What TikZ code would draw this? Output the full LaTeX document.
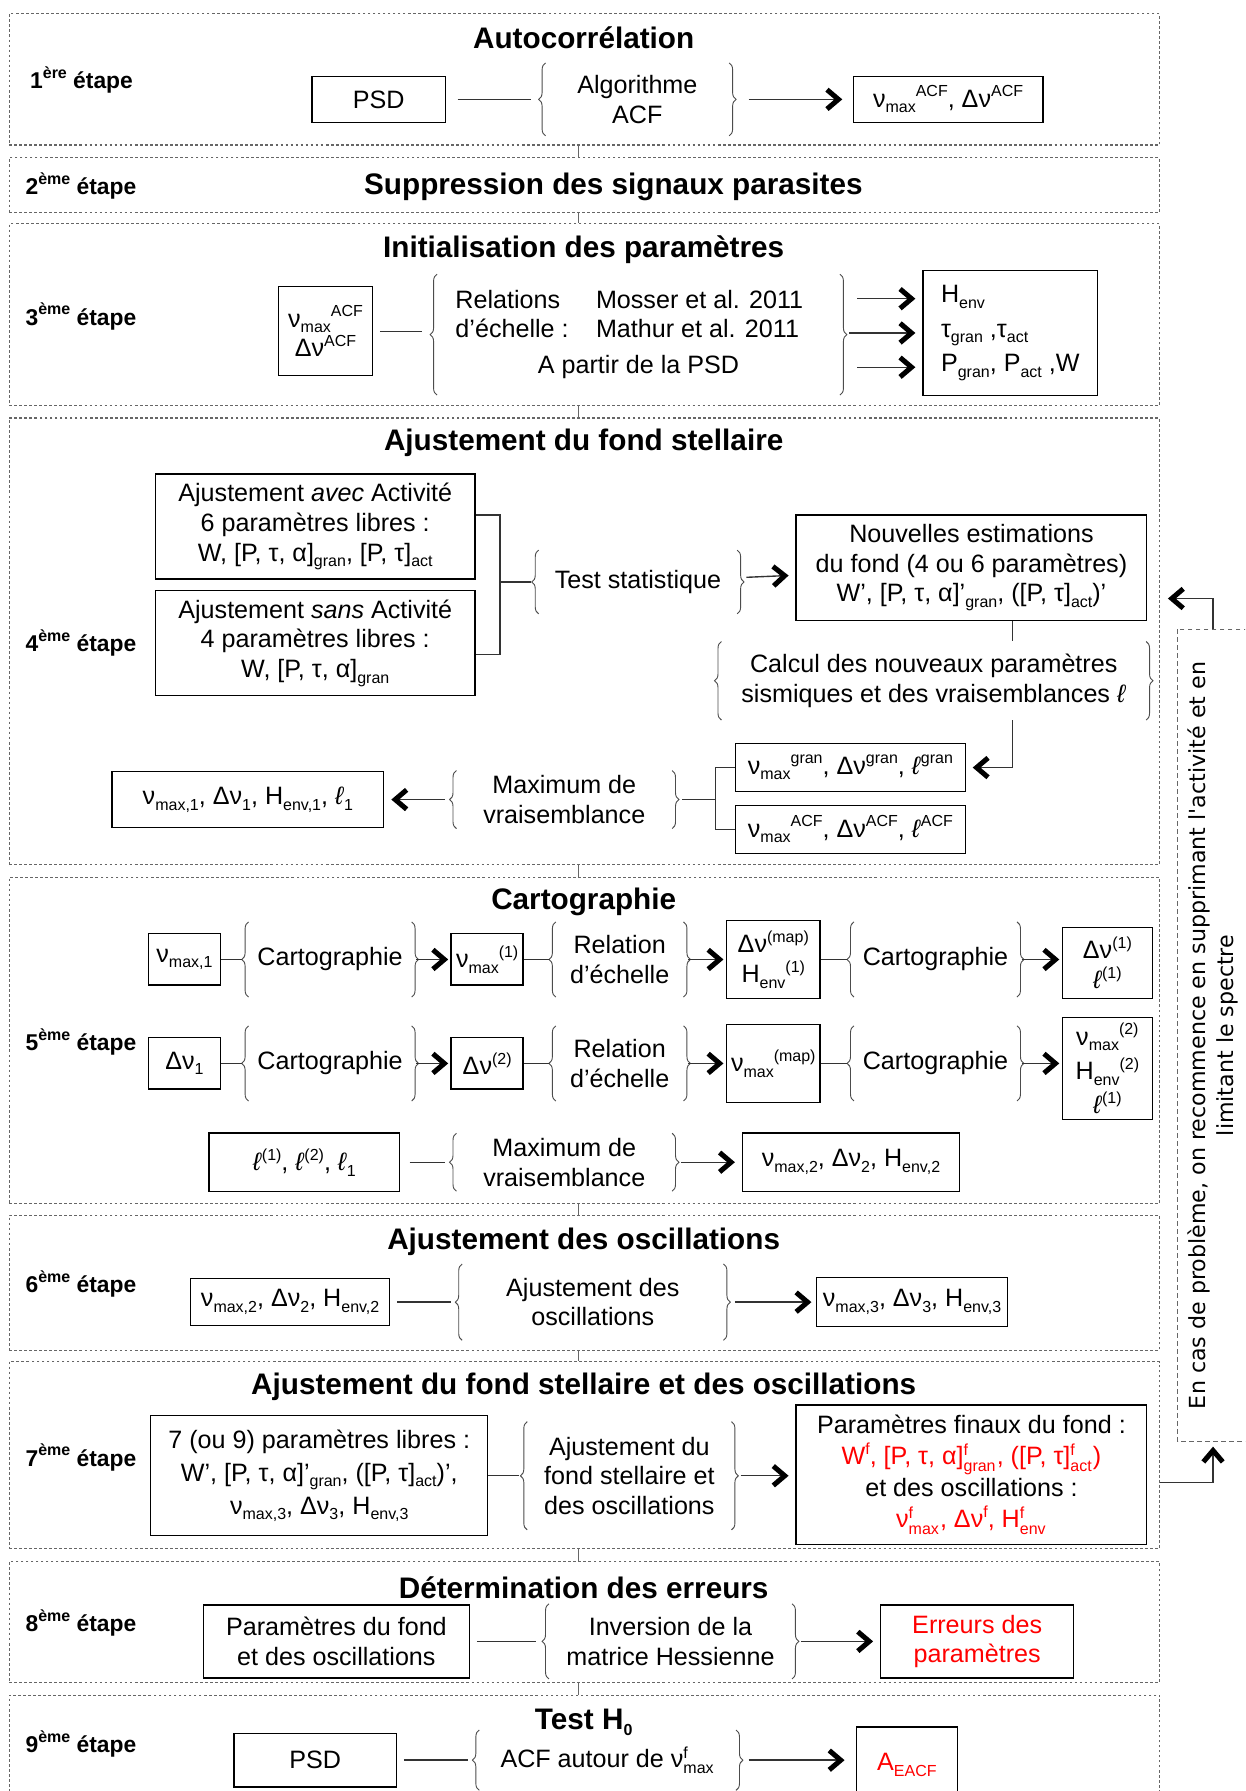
\documentclass[tikz,border=0pt]{standalone}
\usepackage{fontspec}
\setmainfont{Liberation Sans}
\newfontfamily\sidefont{DejaVu Sans}
\usetikzlibrary{arrows.meta,decorations.pathreplacing}
\newcommand\lo[1]{\raisebox{-2.5pt}{\fontsize{7}{8}\selectfont #1}}
\newcommand\hi[1]{\raisebox{4.5pt}{\fontsize{7}{8}\selectfont #1}}
\newcommand\hilo[2]{\ensuremath{^{\mbox{\fontsize{7}{8}\selectfont #1}}_{\mbox{\fontsize{7}{8}\selectfont #2}}}}
\newcommand\vl{\textit{ℓ}}
\newcommand\bracepair[1]{\draw[brace] (#1.south west) -- (#1.north west); \draw[brace] (#1.north east) -- (#1.south east);}
\tikzset{
stage/.style={draw=black!60, dash pattern=on 1.2pt off 1pt, line width=0.5pt},
sidebox/.style={draw=black!60, dash pattern=on 2pt off 1.5pt, line width=0.5pt, align=center, font=\fontsize{9.7}{12.5}\sidefont},
box/.style={draw=black, line width=0.6pt, align=center, inner sep=1.5pt},
proc/.style={align=center, inner sep=0pt},
title/.style={font=\fontsize{13}{15}\selectfont\bfseries},
steplabel/.style={anchor=west, inner sep=0pt, font=\fontsize{10}{12}\selectfont\bfseries},
brace/.style={draw=black!70, line width=0.4pt, decorate, decoration={brace, amplitude=3pt}},
gap/.style={draw=black!60, line width=0.4pt},
line/.style={draw=black!80, line width=0.6pt},
link/.style={line, shorten <=3pt, shorten >=5pt},
flow/.style={line, shorten <=4pt, shorten >=3pt, -{Straight Barb[black, length=5pt, width=8.5pt, line width=2.2pt]}},
sz/.style 2 args={minimum width=#1*0.5pt, minimum height=#2*0.5pt},
}
\begin{document}
\begin{tikzpicture}[x=0.5pt, y=-0.5pt, every node/.style={font=\fontsize{11}{13}\selectfont}]
\path[use as bounding box] (0,0) rectangle (1090,1568);
\clip (0,0) rectangle (1090,1568);

\node[stage, sz={1007}{115}] (s1) at (511.5,69.5) {};
\node[stage, sz={1007}{48}] (s2) at (511.5,162) {};
\node[stage, sz={1007}{159}] (s3) at (511.5,275.5) {};
\node[stage, sz={1007}{391}] (s4) at (511.5,561.5) {};
\node[stage, sz={1007}{286}] (s5) at (511.5,911) {};
\node[stage, sz={1007}{118}] (s6) at (511.5,1123) {};
\node[stage, sz={1007}{164}] (s7) at (511.5,1274) {};
\node[stage, sz={1007}{106}] (s8) at (511.5,1420) {};
\node[stage, sz={1007}{130}] (s9) at (511.5,1549) {};
\draw[gap] ([xshift=-2.75pt]s1.south) -- ([xshift=-2.75pt]s2.north);
\draw[gap] ([xshift=-2.75pt]s2.south) -- ([xshift=-2.75pt]s3.north);
\draw[gap] ([xshift=-2.75pt]s3.south) -- ([xshift=-2.75pt]s4.north);
\draw[gap] ([xshift=-2.75pt]s4.south) -- ([xshift=-2.75pt]s5.north);
\draw[gap] ([xshift=-2.75pt]s5.south) -- ([xshift=-2.75pt]s6.north);
\draw[gap] ([xshift=-2.75pt]s6.south) -- ([xshift=-2.75pt]s7.north);
\draw[gap] ([xshift=-2.75pt]s7.south) -- ([xshift=-2.75pt]s8.north);
\draw[gap] ([xshift=-2.75pt]s8.south) -- ([xshift=-2.75pt]s9.north);

\node[steplabel] (e1) at (26,70) {1\hi{ère} étape};
\node[steplabel] (e2) at (22,163) {2\hi{ème} étape};
\node[steplabel] (e3) at (22,277) {3\hi{ème} étape};
\node[steplabel] (e4) at (22,563) {4\hi{ème} étape};
\node[steplabel] (e5) at (22,912) {5\hi{ème} étape};
\node[steplabel] (e6) at (22,1124) {6\hi{ème} étape};
\node[steplabel] (e7) at (22,1276) {7\hi{ème} étape};
\node[steplabel] (e8) at (22,1421) {8\hi{ème} étape};
\node[steplabel] (e9) at (22,1527) {9\hi{ème} étape};

\node[title] (t1) at (511,33) {Autocorrélation};
\node[box, sz={117}{40}] (psd1) at (331.5,87) {PSD};
\node[proc, sz={160}{63}] (acf1) at (558,87) {Algorithme\\ACF};
\node[box, sz={166}{40}] (out1) at (830,87) {ν\lo{max}\hi{ACF}, Δν\hi{ACF}};
\bracepair{acf1}
\draw[link, shorten <=5pt, shorten >=6.5pt] (psd1) -- (acf1);
\draw[flow, shorten <=8.5pt, shorten >=4.5pt] (acf1) -- (out1);

\node[title] (t2) at (537,164) {Suppression des signaux parasites};

\node[title] (t3) at (511,219) {Initialisation des paramètres};
\node[box, sz={82}{78}] (in3) at (285,290) {ν\lo{max}\hi{ACF}\\Δν\hi{ACF}};
\node[proc, sz={352}{105}] (rel3) at (559,293) {\begin{tabular}{@{}l@{\hspace{12pt}}l@{}}Relations & Mosser et al. 2011\\ d'échelle : & Mathur et al. 2011\\[2.5pt] \multicolumn{2}{c}{\kern8pt A partir de la PSD}\end{tabular}\kern8pt};
\node[box, sz={153}{109}, align=left, font=\fontsize{11}{15}\selectfont] (out3) at (884.5,291.5) {H\lo{env}\\τ\lo{gran} ,τ\lo{act}\\P\lo{gran}, P\lo{act} ,W};
\bracepair{rel3}
\draw[link, shorten >=6.5pt] (in3) -- (in3 -| rel3.west);
\draw[flow, shorten <=7.5pt] ([yshift=15pt]out3.west -| rel3.east) -- ([yshift=15pt]out3.west);
\draw[flow] (out3.west -| rel3.east) -- (out3.west);
\draw[flow, shorten <=7.5pt] ([yshift=-15pt]out3.west -| rel3.east) -- ([yshift=-15pt]out3.west);

\node[title] (t4) at (511,388) {Ajustement du fond stellaire};
\node[box, sz={280}{92}] (avec4) at (276,461) {Ajustement \textit{avec} Activité\\6 paramètres libres :\\W, [P, τ, α]\lo{gran}, [P, τ]\lo{act}};
\node[box, sz={280}{92}] (sans4) at (276,563) {Ajustement \textit{sans} Activité\\4 paramètres libres :\\W, [P, τ, α]\lo{gran}};
\node[proc, sz={173}{55}] (test4) at (558.5,509.5) {Test statistique};
\node[box, sz={307}{92}] (new4) at (850.5,497) {Nouvelles estimations\\du fond (4 ou 6 paramètres)\\W', [P, τ, α]'\lo{gran}, ([P, τ]\lo{act})'};
\node[proc, sz={371}{68}] (calc4) at (817.5,596) {Calcul des nouveaux paramètres\\sismiques et des vraisemblances \vl};
\node[box, sz={201}{42}] (gran4) at (744.5,672) {ν\lo{max}\hi{gran}, Δν\hi{gran}, \vl\hi{gran}};
\node[box, sz={201}{42}] (acf4) at (744.5,726) {ν\lo{max}\hi{ACF}, Δν\hi{ACF}, \vl\hi{ACF}};
\node[proc, sz={188}{50}] (ml4) at (494,700) {Maximum de\\vraisemblance};
\node[box, sz={238}{49}] (res4) at (217,700) {ν\lo{max,1}, Δν\lo{1}, H\lo{env,1}, \vl\lo{1}};
\bracepair{test4}
\bracepair{calc4}
\bracepair{ml4}
\draw[line] ([yshift=5pt]avec4.east) -- ++(21,0) coordinate (j4) |- ([yshift=-5pt]sans4.east);
\draw[link, shorten <=0pt, shorten >=3.5pt] (j4 |- test4) -- (test4);
\draw[flow] (test4) -- (new4);
\draw[line] ([xshift=18pt]new4.south) -- ([xshift=18pt]new4.south |- calc4.north);
\draw[flow, shorten <=0pt] ([xshift=18pt]new4.south |- calc4.south) |- (gran4);
\draw[line] (gran4.west) -- ++(-17,0) coordinate (j5) |- (acf4.west);
\draw[link, shorten <=0pt, shorten >=4.5pt] (j5 |- ml4) -- (ml4);
\draw[flow, shorten <=5pt] (ml4) -- (res4);

\node[title] (t5) at (511,790) {Cartographie};
\node[box, sz={63}{45}] (a51) at (161.5,840) {ν\lo{max,1}};
\node[proc, sz={142}{65}] (b51) at (289,840) {Cartographie};
\node[box, sz={63}{45}] (c51) at (426.5,840) {ν\lo{max}\hi{(1)}};
\node[proc, sz={111}{65}] (d51) at (542.5,840) {Relation\\d'échelle};
\node[box, sz={82}{68}] (e51) at (677,840) {Δν\hi{(map)}\\H\lo{env}\hi{(1)}};
\node[proc, sz={142}{65}] (f51) at (819,840) {Cartographie};
\node[box, sz={79}{62}] (g51) at (969.5,843) {Δν\hi{(1)}\\\vl\hi{(1)}};
\bracepair{b51}
\bracepair{d51}
\bracepair{f51}
\draw[link, shorten <=0pt, shorten >=3pt] (a51) -- (b51);
\draw[flow, shorten <=2pt, shorten >=1pt] (b51) -- (c51);
\draw[link, shorten <=0pt, shorten >=3pt] (c51) -- (d51);
\draw[flow, shorten <=2pt, shorten >=1pt] (d51) -- (e51);
\draw[link, shorten <=0pt, shorten >=3pt] (e51) -- (f51);
\draw[flow, shorten <=2pt, shorten >=1pt] (f51.east) -- (g51.west |- f51.east);

\node[box, sz={63}{45}] (a52) at (161.5,931) {Δν\lo{1}};
\node[proc, sz={142}{65}] (b52) at (289,931) {Cartographie};
\node[box, sz={63}{45}] (c52) at (426.5,931) {Δν\hi{(2)}};
\node[proc, sz={111}{65}] (d52) at (542.5,931) {Relation\\d'échelle};
\node[box, sz={82}{68}] (e52) at (677,931) {ν\lo{max}\hi{(map)}};
\node[proc, sz={142}{65}] (f52) at (819,931) {Cartographie};
\node[box, sz={79}{89}, font=\fontsize{11}{15}\selectfont] (g52) at (969.5,935.5) {ν\lo{max}\hi{(2)}\\H\lo{env}\hi{(2)}\\\vl\hi{(1)}};
\bracepair{b52}
\bracepair{d52}
\bracepair{f52}
\draw[link, shorten <=0pt, shorten >=3pt] (a52) -- (b52);
\draw[flow, shorten <=2pt, shorten >=1pt] (b52) -- (c52);
\draw[link, shorten <=0pt, shorten >=3pt] (c52) -- (d52);
\draw[flow, shorten <=2pt, shorten >=1pt] (d52) -- (e52);
\draw[link, shorten <=0pt, shorten >=3pt] (e52) -- (f52);
\draw[flow, shorten <=2pt, shorten >=1pt] (f52.east) -- (g52.west |- f52.east);

\node[box, sz={167}{51}] (l5) at (266.5,1017.5) {\vl\hi{(1)}, \vl\hi{(2)}, \vl\lo{1}};
\node[proc, sz={188}{50}] (ml5) at (494,1017.5) {Maximum de\\vraisemblance};
\node[box, sz={190}{51}] (res5) at (745,1017.5) {ν\lo{max,2}, Δν\lo{2}, H\lo{env,2}};
\bracepair{ml5}
\draw[link, shorten <=4pt] (l5) -- (ml5);
\draw[flow] (ml5) -- (res5);

\node[title] (t6) at (511,1087) {Ajustement des oscillations};
\node[box, sz={174}{41}] (in6) at (254,1140) {ν\lo{max,2}, Δν\lo{2}, H\lo{env,2}};
\node[proc, sz={228}{66}] (fit6) at (519,1140) {Ajustement des\\oscillations};
\node[box, sz={167}{43}] (out6) at (798.5,1140) {ν\lo{max,3}, Δν\lo{3}, H\lo{env,3}};
\bracepair{fit6}
\draw[link] (in6) -- (fit6);
\draw[flow, shorten <=5pt, shorten >=2pt] (fit6) -- (out6);

\node[title] (t7) at (511,1214) {Ajustement du fond stellaire et des oscillations};
\node[box, sz={295}{105}, font=\fontsize{11}{14.5}\selectfont] (in7) at (279.5,1292) {7 (ou 9) paramètres libres :\\W', [P, τ, α]'\lo{gran}, ([P, τ]\lo{act})',\\ν\lo{max,3}, Δν\lo{3}, H\lo{env,3}};
\node[proc, sz={178}{94}] (fit7) at (551,1292) {Ajustement du\\fond stellaire et\\des oscillations};
\node[box, sz={307}{122}, font=\fontsize{11}{13.8}\selectfont] (out7) at (850.5,1291) {Paramètres finaux du fond :\\\textcolor{red}{W\hi{f}, [P, τ, α]\hilo{f}{gran}, ([P, τ]\hilo{f}{act})}\\et des oscillations :\\\textcolor{red}{ν\hilo{f}{max}, Δν\hi{f}, H\hilo{f}{env}}};
\bracepair{fit7}
\draw[link, shorten <=0pt, shorten >=3.5pt] (in7) -- (fit7);
\draw[flow] (fit7.east) -- (out7.west |- fit7.east);

\node[title] (t8) at (511,1390) {Détermination des erreurs};
\node[box, sz={233}{64}] (in8) at (294.5,1437) {Paramètres du fond\\et des oscillations};
\node[proc, sz={212}{65}] (inv8) at (587,1437) {Inversion de la\\matrice Hessienne};
\node[box, sz={169}{64}, text=red] (out8) at (855.5,1437) {Erreurs des\\paramètres};
\bracepair{inv8}
\draw[link, shorten >=5.5pt] (in8) -- (inv8);
\draw[flow] (inv8) -- (out8);

\node[title] (t9) at (511,1508) {Test H\lo{0}};
\node[box, sz={142}{47}] (psd9) at (276,1541) {PSD};
\node[proc, sz={224}{52}] (acf9) at (532,1541) {ACF autour de ν\hilo{f}{max}};
\node[box, sz={88}{66}, text=red] (out9) at (794,1545) {A\lo{EACF}};
\bracepair{acf9}
\draw[link] (psd9) -- (acf9);
\draw[flow, shorten <=5.5pt, shorten >=5pt] (acf9.east) -- (out9.west |- acf9.east);

\node[sidebox, rotate=90, sz={711}{62}] (side) at (1062,906.5) {En cas de problème, on recommence en supprimant l'activité et en\\limitant le spectre};
\draw[flow, shorten <=0pt, shorten >=3.5pt] (side.east) |- ([yshift=18.75pt]s4.east);
\draw[flow, shorten <=0pt, shorten >=2pt] ([yshift=-12pt]s7.east) -| (side.west);
\end{tikzpicture}
\end{document}
